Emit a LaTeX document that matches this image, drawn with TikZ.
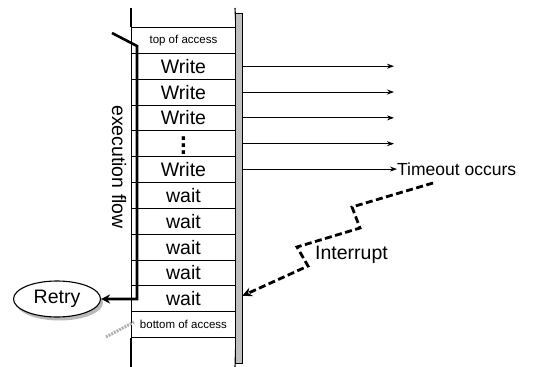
\documentclass[tikz,border=0pt]{standalone}
\usepackage{fontspec}
\setmainfont{Liberation Sans}
\usetikzlibrary{arrows.meta,shapes.geometric}
\begin{document}
\begin{tikzpicture}[x=1pt,y=-1pt,
  rowbox/.style={draw, line width=0.9pt, minimum width=104pt, minimum height=25.83pt,
    inner sep=0pt, anchor=north west, font=\fontsize{19.5}{19.5}\selectfont},
  smalltext/.style={font=\fontsize{11.5}{12}\selectfont},
  bigtext/.style={font=\fontsize{19.5}{19.5}\selectfont, inner sep=0pt},
  thinarr/.style={line width=0.9pt, -{Stealth[length=7pt,width=5pt]}},
  flowline/.style={line width=2.6pt, -{Stealth[length=9pt,width=9pt]}},
  intline/.style={line width=2.8pt, dash pattern=on 7pt off 3.5pt, -{Stealth[length=10pt,width=9pt]}},
  colline/.style={line width=1.1pt}]
\useasboundingbox (0,0) rectangle (539,367);

% rows
\node[rowbox, smalltext] (r0) at (131,27) {top of access};
\node[rowbox] (r1) at (131,52.83) {Write};
\node[rowbox] (r2) at (131,78.67) {Write};
\node[rowbox] (r3) at (131,104.5) {Write};
\node[rowbox] (r4) at (131,130.33) {\raisebox{-11.2pt}[0pt][0pt]{\scalebox{1.8}{$\vdots$}}};
\node[rowbox] (r5) at (131,156.17) {Write};
\node[rowbox] (r6) at (131,182) {wait};
\node[rowbox] (r7) at (131,207.83) {wait};
\node[rowbox] (r8) at (131,233.67) {wait};
\node[rowbox] (r9) at (131,259.5) {wait};
\node[rowbox] (r10) at (131,285.33) {wait};
\node[rowbox, smalltext] (r11) at (131,311.17) {bottom of access};

% column extensions
\draw[colline] (r0.north west) -- (131,8);
\draw[colline] (r0.north east) -- (235,8);
\draw[colline] (r11.south west) -- (131,367);
\draw[colline] (r11.south east) -- (235,367);

% hatched bar
\node[draw, line width=1pt, fill=gray!50, minimum width=7pt, minimum height=350pt,
  inner sep=0pt, anchor=north west] (bar) at (235,13) {};

% write arrows
\foreach \r in {r1,r2,r3,r4}
  \draw[thinarr] (bar.east |- \r.center) -- ++(151,0);

\node[bigtext, anchor=west, font=\fontsize{17.5}{18}\selectfont] (timeout) at (397,169.08) {Timeout occurs};
\draw[thinarr] (bar.east |- timeout.west) -- (timeout.west);

% execution flow
\node[bigtext, rotate=-90] (ef) at (119,167) {execution flow};

% Retry
\fill[gray!55] (59.5,302.5) ellipse [x radius=43.5pt, y radius=18pt];
\node[ellipse, draw, line width=1.1pt, fill=white, minimum width=87pt, minimum height=36pt,
  font=\fontsize{19.5}{19.5}\selectfont, inner sep=0pt] (retry) at (57,299) {Retry};

\coordinate (f0) at (112,33);
\coordinate (f1) at (137,46);
\draw[flowline] (f0) -- (f1) -- (f1 |- retry.east) -- (retry.east);

% gray scribble
\draw[gray!60, line width=3pt, dash pattern=on 2pt off 1pt] (106,337) -- (134,322);

% interrupt
\coordinate (i0) at (433,183);
\coordinate (ihit) at (242,296);
\draw[intline] (i0) -- (352,207) -- (360,228) -- (297,247) -- (308,266) -- (ihit);
\node[bigtext, anchor=west] (int) at (315,255) {Interrupt};
\end{tikzpicture}
\end{document}
